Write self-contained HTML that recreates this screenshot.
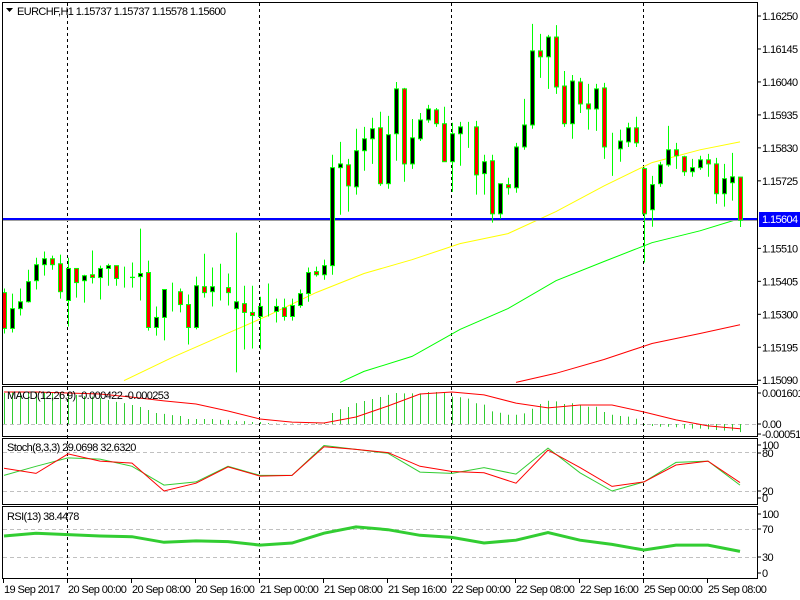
<!DOCTYPE html>
<html><head><meta charset="utf-8"><style>
html,body{margin:0;padding:0;background:#fff;}
svg{display:block;font-family:"Liberation Sans",sans-serif;}
text{letter-spacing:-0.6px;}
</style></head><body>
<svg id="chart" width="800" height="600" viewBox="0 0 800 600" xmlns="http://www.w3.org/2000/svg">
<defs><clipPath id="cm"><rect x="3" y="3" width="754" height="381"/></clipPath></defs>
<rect x="0" y="0" width="800" height="600" fill="#fff"/>
<g id="panes" fill="none" stroke="#000" stroke-width="1">
<rect x="2.5" y="2.5" width="755" height="382"/>
<rect x="2.5" y="386.5" width="755" height="50"/>
<rect x="2.5" y="438.5" width="755" height="66"/>
<rect x="2.5" y="506.5" width="755" height="72"/>
</g>
<g id="levels" stroke="#c0c0c0" stroke-dasharray="4,3" stroke-width="1">
<line x1="3" x2="757" y1="424.5" y2="424.5"/>
<line x1="3" x2="757" y1="452.5" y2="452.5"/>
<line x1="3" x2="757" y1="491.5" y2="491.5"/>
<line x1="3" x2="757" y1="529.5" y2="529.5"/>
<line x1="3" x2="757" y1="557.5" y2="557.5"/>
</g>
<g id="seps" stroke="#000" stroke-dasharray="3,3" stroke-width="1"></g>
<g id="main" clip-path="url(#cm)"></g>
<g id="ind"></g>
<g id="axis" font-size="11" fill="#000"></g>
<text x="17" y="15" font-size="11" fill="#000">EURCHF,H1  1.15737 1.15737 1.15578 1.15600</text>
<polygon points="6,8 13,8 9.5,12" fill="#000"/>
<text x="7" y="399" font-size="11" fill="#000">MACD(12,26,9) -0.000422 -0.000253</text>
<text x="7" y="451" font-size="11" fill="#000">Stoch(8,3,3) 29.0698 32.6320</text>
<text x="7" y="520" font-size="11" fill="#000">RSI(13) 38.4478</text>
</svg>
<script>
const opens=[1.15369,1.15255,1.15318,1.15340,1.15407,1.15458,1.15477,1.15461,1.15344,1.15446,1.15407,1.15426,1.15417,1.15446,1.15455,1.15414,1.15417,1.15420,1.15433,1.15258,1.15290,1.15372,1.15372,1.15331,1.15258,1.15388,1.15372,1.15385,1.15385,1.15318,1.15334,1.15306,1.15293,1.15321,1.15309,1.15321,1.15293,1.15328,1.15366,1.15436,1.15426,1.15455,1.15767,1.15776,1.15706,1.15821,1.15859,1.15894,1.15716,1.15875,1.16018,1.15779,1.15859,1.15919,1.15951,1.15907,1.15786,1.15875,1.15894,1.15897,1.15748,1.15789,1.15620,1.15713,1.15703,1.15833,1.15903,1.16139,1.16120,1.16183,1.16027,1.15907,1.16040,1.15970,1.15954,1.16021,1.15827,1.15827,1.15849,1.15894,1.15764,1.15633,1.15716,1.15776,1.15824,1.15802,1.15754,1.15767,1.15792,1.15779,1.15684,1.15719,1.15737];
const highs=[1.15382,1.15366,1.15382,1.15442,1.15480,1.15500,1.15487,1.15490,1.15480,1.15446,1.15426,1.15503,1.15455,1.15461,1.15455,1.15452,1.15465,1.15573,1.15471,1.15325,1.15379,1.15401,1.15382,1.15363,1.15420,1.15493,1.15449,1.15461,1.15430,1.15560,1.15391,1.15391,1.15356,1.15398,1.15350,1.15350,1.15350,1.15379,1.15449,1.15452,1.15474,1.15808,1.15849,1.15795,1.15891,1.15897,1.15926,1.15945,1.15932,1.16040,1.16021,1.15922,1.15941,1.15967,1.15957,1.15961,1.15910,1.15913,1.15913,1.15916,1.15808,1.15808,1.15716,1.15735,1.15846,1.15986,1.16225,1.16193,1.16190,1.16221,1.16075,1.16062,1.16053,1.16034,1.16034,1.16037,1.15878,1.15888,1.15910,1.15929,1.15767,1.15741,1.15786,1.15900,1.15846,1.15805,1.15795,1.15805,1.15811,1.15798,1.15779,1.15814,1.15737];
const lows=[1.15239,1.15242,1.15296,1.15337,1.15379,1.15423,1.15442,1.15350,1.15261,1.15353,1.15337,1.15398,1.15347,1.15391,1.15391,1.15385,1.15385,1.15344,1.15248,1.15232,1.15217,1.15309,1.15306,1.15204,1.15252,1.15353,1.15325,1.15344,1.15328,1.15115,1.15188,1.15191,1.15188,1.15293,1.15274,1.15280,1.15280,1.15321,1.15340,1.15420,1.15410,1.15426,1.15617,1.15627,1.15681,1.15757,1.15779,1.15709,1.15700,1.15789,1.15722,1.15763,1.15852,1.15910,1.15897,1.15786,1.15690,1.15773,1.15830,1.15681,1.15681,1.15592,1.15605,1.15681,1.15687,1.15824,1.15891,1.16053,1.16018,1.16002,1.15897,1.15859,1.15941,1.15888,1.15884,1.15795,1.15741,1.15786,1.15833,1.15833,1.15465,1.15579,1.15706,1.15770,1.15763,1.15741,1.15738,1.15760,1.15738,1.15652,1.15643,1.15662,1.15578];
const closes=[1.15255,1.15318,1.15340,1.15404,1.15458,1.15477,1.15458,1.15372,1.15446,1.15401,1.15423,1.15417,1.15446,1.15455,1.15414,1.15414,1.15418,1.15430,1.15258,1.15290,1.15379,1.15372,1.15331,1.15258,1.15391,1.15369,1.15388,1.15385,1.15369,1.15340,1.15306,1.15296,1.15325,1.15321,1.15325,1.15293,1.15328,1.15366,1.15433,1.15426,1.15455,1.15767,1.15779,1.15709,1.15821,1.15859,1.15891,1.15716,1.15872,1.16018,1.15779,1.15862,1.15919,1.15954,1.15907,1.15786,1.15875,1.15897,1.15894,1.15744,1.15786,1.15620,1.15716,1.15703,1.15833,1.15903,1.16139,1.16120,1.16183,1.16024,1.15907,1.16043,1.15970,1.15954,1.16018,1.15833,1.15827,1.15852,1.15894,1.15846,1.15620,1.15713,1.15776,1.15824,1.15805,1.15754,1.15767,1.15792,1.15779,1.15684,1.15732,1.15738,1.15600];
const maYellowIdx=[15,21,27,33,39,45,51,57,63,69,75,81,87,92];
const maYellow=[1.15089,1.15162,1.15229,1.15296,1.15369,1.15430,1.15474,1.15525,1.15557,1.15627,1.15709,1.15783,1.15824,1.15849];
const maGreenIdx=[42,45,51,57,63,69,75,81,87,92];
const maGreen=[1.15083,1.15118,1.15166,1.15252,1.15318,1.15407,1.15468,1.15528,1.15566,1.15605];
const maRedIdx=[64,69,75,81,87,92];
const maRed=[1.15083,1.15112,1.15156,1.15207,1.15239,1.15267];
const hLinePrice=1.15604;
const priceTicks=["1.16250","1.16145","1.16040","1.15935","1.15830","1.15725","1.15510","1.15405","1.15300","1.15195","1.15090"];
const macdHist=[0.00160,0.00165,0.00165,0.00165,0.00165,0.00165,0.00165,0.00165,0.00160,0.00150,0.00144,0.00141,0.00134,0.00124,0.00114,0.00108,0.00098,0.00088,0.00072,0.00057,0.00052,0.00046,0.00041,0.00026,0.00026,0.00026,0.00026,0.00021,0.00021,0.00015,0.00015,0.00010,0.00010,0.00005,0.00002,0.00002,0.00002,0.00002,0.00002,0.00005,0.00005,0.00057,0.00077,0.00088,0.00108,0.00119,0.00129,0.00139,0.00150,0.00160,
0.00158,0.00158,0.00158,0.00165,0.00165,0.00162,0.00141,0.00138,0.00131,0.00107,0.00100,0.00065,0.00058,0.00048,0.00048,0.00055,0.00079,0.00103,0.00120,0.00117,0.00103,0.00107,0.00096,0.00089,0.00089,0.00062,0.00048,0.00041,0.00038,0.00027,-0.00005,-0.00010,-0.00014,-0.00014,-0.00017,-0.00024,-0.00024,-0.00024,-0.00027,-0.00031,-0.00034,-0.00034,-0.00042];
const sigIdx=[0,4,8,12,16,20,24,28,32,36,40,44,48,52,56,60,64,68,72,76,80,84,88,92];
const macdSignal=[0.00165,0.00165,0.00160,0.00155,0.00139,0.00119,0.00103,0.00067,0.00026,0.00010,0.00005,0.00036,0.00093,0.00155,0.00165,0.00150,0.00108,0.00083,0.00098,0.00098,0.00062,0.00021,-0.00010,-0.00025];
const stochMain=[44,58,71,69,58,29,34,58,44,44,90,84,78,49,47,56,46,86,48,20,34,64,66,29];
const stochSignal=[55,47,77,66,63,20,32,57,43,44,88,84,79,58,50,48,32,83,56,27,34,60,66,33];
const rsiVals=[60,64,62,60,59,51,53,52,47,50,64,73,69,61,58,50,54,65,54,48,40,47,47,38];
const timeLabels=["19 Sep 2017","20 Sep 00:00","20 Sep 08:00","20 Sep 16:00","21 Sep 00:00","21 Sep 08:00","21 Sep 16:00","22 Sep 00:00","22 Sep 08:00","22 Sep 16:00","25 Sep 00:00","25 Sep 08:00"];
const timeLabelIdx=[0,8,16,24,32,40,48,56,64,72,80,88];
const daySepIdx=[8,32,56,80];

const NS="http://www.w3.org/2000/svg";
function mk(tag,attrs,parent){const e=document.createElementNS(NS,tag);for(const k in attrs)e.setAttribute(k,attrs[k]);parent.appendChild(e);return e;}
const xI=i=>4+8*i;
const yP=p=>16+(1.1625-p)*31400;
const yM=v=>424-v*19380;
const yS=v=>504-v*0.65;
const yR=v=>578-v*0.7;
const main=document.getElementById('main'),ind=document.getElementById('ind'),axis=document.getElementById('axis'),seps=document.getElementById('seps');

daySepIdx.forEach(i=>{
  const l=mk('line',{x1:xI(i)-0.5,x2:xI(i)-0.5,y1:3,y2:582},seps);
  
  
});

function poly(idx,vals,fy,color,w,parent,name){
  const pts=idx.map((i,k)=>xI(i)+','+fy(vals[k]).toFixed(1)).join(' ');
  const p=mk('polyline',{points:pts,fill:'none',stroke:color,'stroke-width':w},parent);
  
  
}
poly(maYellowIdx,maYellow,yP,'#ffff00',1,main,'ma-yellow-line');
poly(maGreenIdx,maGreen,yP,'#00ff00',1,main,'ma-green-line');
poly(maRedIdx,maRed,yP,'#ff0000',1,main,'ma-red-line');

const hy=Math.round(yP(hLinePrice));
const hl=mk('rect',{x:3,y:hy-1,width:754,height:2,fill:'#0000ff'},main);


const hg=mk('rect',{x:3,y:hy+1,width:754,height:1,fill:'#a0a0a0'},main);



for(let i=0;i<opens.length;i++){
  const x=xI(i),o=opens[i],c=closes[i];
  const g=mk('g',{},main);
  
  
  mk('line',{x1:x+0.5,x2:x+0.5,y1:yP(highs[i]),y2:yP(lows[i]),stroke:'#00ff00','stroke-width':1},g);
  const top=yP(Math.max(o,c)),bot=yP(Math.min(o,c));
  mk('rect',{x:x-1.5,y:top,width:4,height:Math.max(0,bot-top),fill:c>o?'#000':(c<o?'#ff0000':'none'),stroke:'#00ff00','stroke-width':1},g);
}

macdHist.forEach((v,i)=>{
  const r=mk('line',{x1:xI(i)+0.5,x2:xI(i)+0.5,y1:yM(0),y2:yM(v),stroke:'#32cd32','stroke-width':1},ind);
  
  
});
poly(sigIdx,macdSignal,yM,'#ff0000',1,ind,'macd-signal-line');
poly(sigIdx,stochMain,yS,'#32cd32',1,ind,'stoch-main-line');
poly(sigIdx,stochSignal,yS,'#ff0000',1,ind,'stoch-signal-line');
poly(sigIdx,rsiVals,yR,'#32cd32',3,ind,'rsi-line');

priceTicks.forEach(t=>{
  const y=yP(parseFloat(t));
  mk('line',{x1:757,x2:761,y1:y,y2:y,stroke:'#000'},axis);
  const tx=mk('text',{x:762,y:y+4},axis);tx.textContent=t;
  
  
});
const pb=mk('rect',{x:759,y:hy-7,width:41,height:15,fill:'#0000ff'},axis);


const pt=mk('text',{x:762,y:hy+4,fill:'#fff'},axis);pt.textContent=hLinePrice.toFixed(5);



const rightLabels=[["0.001601",yM(0.0016)],["0.00",yM(0)],["-0.000518",yM(-0.000518)],["100",445],["80",453],["20",491],["0",498],["100",514],["70",529],["30",557],["0",573]];
rightLabels.forEach(([t,y])=>{
  mk('line',{x1:757,x2:761,y1:y,y2:y,stroke:'#000'},axis);
  const tx=mk('text',{x:762,y:y+4},axis);tx.textContent=t;
  
  
});

timeLabels.forEach((t,k)=>{
  const x=xI(timeLabelIdx[k])-1;
  mk('line',{x1:x+0.5,x2:x+0.5,y1:579,y2:583,stroke:'#000'},axis);
  const tx=mk('text',{x:x+1,y:593},axis);tx.textContent=t;
  
  
});
</script>
</body></html>
